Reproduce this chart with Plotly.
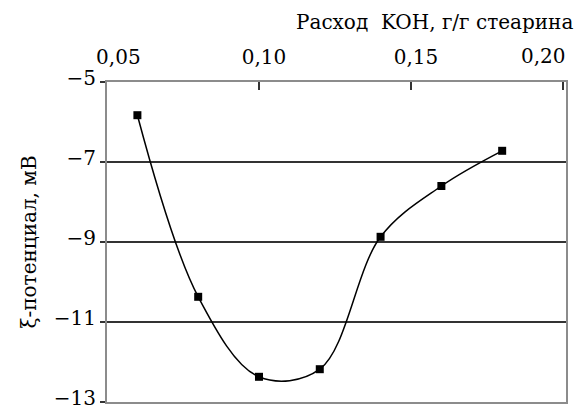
import plotly.graph_objects as go

koh = [0.06, 0.08, 0.10, 0.12, 0.14, 0.16, 0.18]
zeta = [-5.83, -10.37, -12.37, -12.18, -8.87, -7.6, -6.72]

x_ticks = [0.05, 0.10, 0.15, 0.20]
x_ticktext = ["0,05", "0,10", "0,15", "0,20"]
y_ticks = [-13, -11, -9, -7, -5]
y_ticktext = ["\u221213", "\u221211", "\u22129", "\u22127", "\u22125"]

FONT = "DejaVu Serif"
FS = 20

# the last top label sits left of its tick (as in the original), drawn as an annotation
axis_text = ["\u00a0\u00a0" + x_ticktext[0]] + x_ticktext[1:-1] + [""]

fig = go.Figure()
fig.add_trace(go.Scatter(
    x=koh, y=zeta, mode="lines+markers",
    line=dict(color="black", width=1.5, shape="spline", smoothing=1.0),
    marker=dict(symbol="square", size=8, color="black"),
    showlegend=False,
))

fig.update_layout(
    width=577, height=405,
    margin=dict(l=107, r=11, t=82, b=3, autoexpand=False),
    paper_bgcolor="white", plot_bgcolor="white",
    font=dict(family=FONT, size=FS, color="black"),
    xaxis=dict(
        side="top", range=[0.05, 0.201], automargin=False,
        tickvals=x_ticks, ticktext=axis_text,
        ticks="inside", ticklen=8, tickwidth=2, tickcolor="#333",
        ticklabelshift=5, ticklabelstandoff=8,
        showgrid=False, zeroline=False,
        showline=True, linecolor="#8c8c8c", linewidth=2, mirror=True,
        tickfont=dict(family=FONT, size=FS),
    ),
    yaxis=dict(
        range=[-13, -5], automargin=False,
        tickvals=y_ticks, ticktext=y_ticktext,
        ticks="outside", ticklen=5, tickwidth=2, tickcolor="#333",
        ticklabeloverflow="allow", ticklabelshift=-4,
        showgrid=True, gridcolor="#333", gridwidth=2,
        zeroline=False,
        showline=True, linecolor="#8c8c8c", linewidth=2, mirror=True,
        tickfont=dict(family=FONT, size=FS),
        title=dict(text="\u03be-потенциал, мВ", font=dict(family=FONT, size=FS), standoff=12),
    ),
    annotations=[
        dict(
            text="Расход  KOH, г/г стеарина", xref="paper", yref="paper",
            x=1.02, y=1, xanchor="right", yanchor="bottom", yshift=46,
            showarrow=False, font=dict(family=FONT, size=FS),
        ),
        dict(
            text=x_ticktext[-1], xref="x", yref="paper",
            x=x_ticks[-1], y=1, xanchor="right", yanchor="middle", xshift=5, yshift=26,
            showarrow=False, font=dict(family=FONT, size=FS),
        ),
    ],
)

fig.write_html("out.html")
